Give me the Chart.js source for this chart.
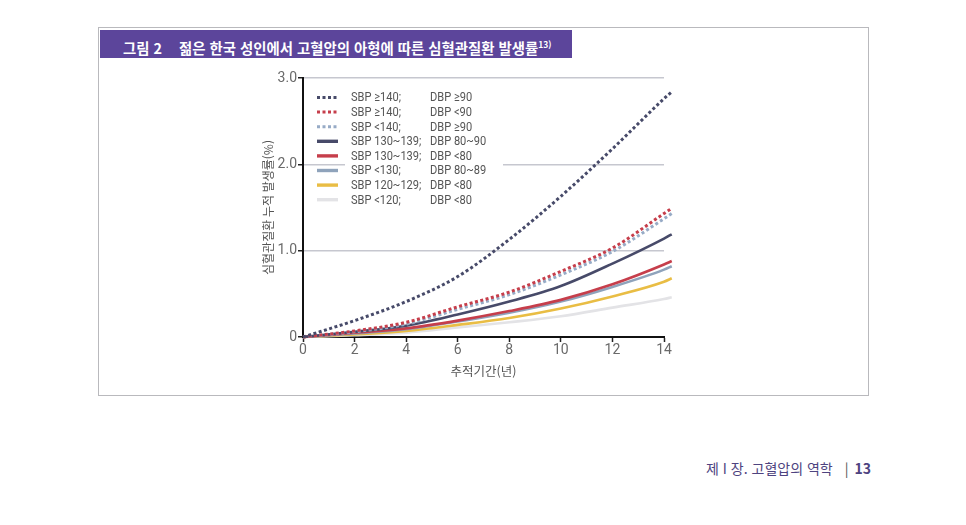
<!DOCTYPE html>
<html lang="ko">
<head>
<meta charset="utf-8">
<title>그림 2 젊은 한국 성인에서 고혈압의 아형에 따른 심혈관질환 발생률</title>
<script src="https://cdn.jsdelivr.net/npm/chart.js@4.4.1/dist/chart.umd.min.js"></script>
<style>
    html, body { margin: 0; padding: 0; background: #fff; }
    body { width: 966px; height: 525px; position: relative; overflow: hidden;
           font-family: "Noto Sans CJK KR", "Noto Sans", sans-serif; }
    #frame { position: absolute; left: 98px; top: 27px; width: 771px; height: 369px;
             border: 1px solid #b9b9bd; box-sizing: border-box; }
    #title-bar { position: absolute; left: 100px; top: 30px; width: 472px; height: 28px;
                 background: #5c459b; color: #fff; font-weight: bold; font-size: 14.4px;
                 line-height: 28px; box-sizing: border-box; padding-left: 23px; white-space: nowrap; }
    #title-bar .num { margin-right: 17px; }
    #title-bar sup { font-size: 8.5px; vertical-align: 6px; }
    #chart-box { position: absolute; left: 240px; top: 60px; width: 450px; height: 330px; }
    #footer { position: absolute; left: 706px; top: 458px; font-size: 14px; color: #4e4380; white-space: nowrap; }
    #footer .sep { color: #555; margin: 0 6px 0 12px; }
</style>
</head>
<body>
<div id="frame"></div>
<div id="title-bar"><span class="num">그림 2</span>젊은 한국 성인에서 고혈압의 아형에 따른 심혈관질환 발생률<sup>13)</sup></div>
<div id="chart-box"><canvas id="cvdChart" width="450" height="330"></canvas></div>
<div id="footer">제 I 장. 고혈압의 역학<span class="sep">|</span><b>13</b></div>

<script>
// 추적기간(년) - 값을 읽은 위치
const years = [0, 2, 4, 6, 8, 10, 12, 14, 14.3];

// 누적 발생률(%)
const sbp140Dbp90 = [0, 0.19, 0.41, 0.70, 1.13, 1.63, 2.18, 2.76, 2.84];
const sbp140DbpLow = [0, 0.07, 0.17, 0.35, 0.52, 0.76, 1.03, 1.43, 1.49];
const sbpLowDbp90 = [0, 0.06, 0.15, 0.32, 0.49, 0.72, 0.99, 1.37, 1.43];
const sbp130Dbp80 = [0, 0.06, 0.13, 0.26, 0.41, 0.59, 0.85, 1.14, 1.19];
const sbp130DbpLow = [0, 0.05, 0.10, 0.19, 0.30, 0.43, 0.61, 0.84, 0.88];
const sbpLow130Dbp80 = [0, 0.04, 0.09, 0.18, 0.28, 0.41, 0.58, 0.78, 0.82];
const sbp120DbpLow = [0, 0.03, 0.07, 0.14, 0.22, 0.33, 0.47, 0.64, 0.68];
const sbpNormal = [0, 0.02, 0.05, 0.11, 0.17, 0.24, 0.34, 0.44, 0.46];

const sbpLabels = ['SBP ≥140;', 'SBP ≥140;', 'SBP <140;', 'SBP 130~139;', 'SBP 130~139;', 'SBP <130;', 'SBP 120~129;', 'SBP <120;'];
const dbpLabels = ['DBP ≥90', 'DBP <90', 'DBP ≥90', 'DBP 80~90', 'DBP <80', 'DBP 80~89', 'DBP <80', 'DBP <80'];

const xTicks = [0, 2, 4, 6, 8, 10, 12, 14];
const yTicks = [0, 1, 2, 3];

const seriesList = [sbp140Dbp90, sbp140DbpLow, sbpLowDbp90, sbp130Dbp80, sbp130DbpLow, sbpLow130Dbp80, sbp120DbpLow, sbpNormal];
const colores = ['#474a69', '#c63e4b', '#97abc6', '#474a69', '#c63e4b', '#8fa3bb', '#e9bd44', '#e3e3e6'];
const punteado = [true, true, true, false, false, false, false, false];

const datasets = seriesList.map((serie, i) => ({
    label: sbpLabels[i] + ' ' + dbpLabels[i],
    data: years.map((x, j) => ({ x: x, y: serie[j] })),
    borderColor: colores[i],
    borderWidth: punteado[i] ? 3 : 2.6,
    borderDash: punteado[i] ? [3, 2.5] : [],
    borderCapStyle: 'butt',
    pointRadius: 0,
    cubicInterpolationMode: 'monotone',
    clip: false
}));

// 좁은 글꼴 흉내: 가로로 약간 압축해서 쓴다
const textoEstrecho = (ctx, texto, x, y) => {
    ctx.save();
    ctx.font = '13.5px Roboto, "Noto Sans", sans-serif';
    ctx.fillStyle = '#555';
    ctx.textBaseline = 'middle';
    ctx.translate(x, y);
    ctx.scale(0.82, 1);
    ctx.fillText(texto, 0, 0);
    ctx.restore();
};

// 범례: 두 칸으로 정렬
const legendPlugin = {
    id: 'leyendaDosColumnas',
    afterDraw(chart) {
        const { ctx, chartArea } = chart;
        const x0 = chartArea.left;
        ctx.save();
        ctx.fillStyle = '#fff';
        ctx.fillRect(x0 + 42, chartArea.top + 12, 158, 116);
        datasets.forEach((ds, i) => {
            const y = chartArea.top + 19.5 + i * 14.6;
            ctx.beginPath();
            ctx.strokeStyle = ds.borderColor;
            ctx.lineWidth = ds.borderDash.length ? 3 : 3.4;
            ctx.setLineDash(ds.borderDash.length ? [3, 2.5] : []);
            ctx.moveTo(x0 + 14, y);
            ctx.lineTo(x0 + 35, y);
            ctx.stroke();
            ctx.setLineDash([]);
            textoEstrecho(ctx, sbpLabels[i], x0 + 48, y + 0.5);
            textoEstrecho(ctx, dbpLabels[i], x0 + 127, y + 0.5);
        });
        ctx.restore();
    }
};

const ctx = document.getElementById('cvdChart').getContext('2d');
new Chart(ctx, {
    type: 'line',
    data: { datasets },
    options: {
        responsive: false,
        animation: false,
        layout: { padding: { top: 18, right: 26, left: 0, bottom: 0 } },
        plugins: {
            legend: { display: false },
            tooltip: { enabled: false }
        },
        scales: {
            x: {
                type: 'linear',
                // 한계는 여기서 정해야 14 이후의 곡선 끝도 그려진다
                afterDataLimits: axis => { axis.min = 0; axis.max = 14; },
                afterBuildTicks: axis => { axis.ticks = xTicks.map(v => ({ value: v })); },
                afterFit: axis => { axis.height = 53; },
                ticks: {
                    color: '#6a6a6a',
                    font: { family: 'Roboto', size: 14 },
                    padding: 0,
                    maxRotation: 0
                },
                grid: { drawOnChartArea: false, tickColor: '#222', tickLength: 5, tickWidth: 1.5 },
                border: { color: '#111', width: 2 },
                title: {
                    display: true,
                    text: '추적기간(년)',
                    color: '#555',
                    font: { family: '"Noto Sans CJK KR"', size: 12.5 },
                    padding: { top: 0, bottom: 11 }
                }
            },
            y: {
                min: 0,
                max: 3,
                afterBuildTicks: axis => { axis.ticks = yTicks.map(v => ({ value: v })); },
                afterFit: axis => { axis.width = 63; },
                ticks: {
                    color: '#6a6a6a',
                    font: { family: 'Roboto', size: 14 },
                    padding: 1,
                    callback: v => v === 0 ? '0' : v.toFixed(1)
                },
                grid: {
                    color: c => c.tick && c.tick.value === 0 ? 'rgba(0,0,0,0)' : '#c6c7cf',
                    lineWidth: 1.5,
                    tickColor: '#222',
                    tickLength: 5,
                    tickWidth: 1.5
                },
                border: { color: '#111', width: 2 },
                title: {
                    display: true,
                    text: '심혈관질환 누적 발생률(%)',
                    color: '#555',
                    font: { family: '"Noto Sans CJK KR"', size: 12 },
                    padding: { top: 21, bottom: 0 }
                }
            }
        }
    },
    plugins: [legendPlugin]
});
</script>
</body>
</html>
